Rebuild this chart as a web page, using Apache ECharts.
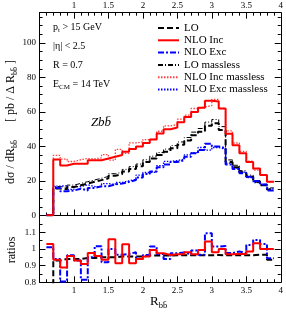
<!DOCTYPE html>
<html><head><meta charset="utf-8">
<script src="https://cdn.jsdelivr.net/npm/echarts@6/dist/echarts.min.js"></script>
<style>html,body{margin:0;padding:0;background:#fff}#c{width:286px;height:312px}</style>
</head><body><div id="c"></div>
<script>
// bin edges (R_bb)
const binEdges = [0.6,0.7,0.8,0.9,1.0,1.1,1.2,1.3,1.4,1.5,1.6,1.7,1.8,1.9,2.0,2.1,2.2,2.3,2.4,2.5,2.6,2.7,2.8,2.9,3.0,3.1,3.2,3.3,3.4,3.5,3.6,3.7,3.8,3.9];
// main panel: dsigma/dR [pb]
const LO = [0.1, 15.6,15.2,16.5,17.5,18.5,19.5,20.5,21.5,23,24, 25.5,27,28.5,31,33,35,37,39,41,43.5, 46.5,48.5,52,53.5,49.5,31,28,25,22.5,19.5, 17.5,15];
const NLO_Inc = [0.2, 32.5,29,30,30,30,32,32,33,34,35, 37,38.5,40,42,44,47.5,50,51,54,57, 60,62.5,66.5,66,62,47.4,40.7,36,31,27.2, 23.4,19.5];
const NLO_Exc = [0.1, 16,14,14.5,15.5,14.5,16,17,17,18,18.5, 19.5,20.5,22,24,25.5,28,29.5,31,32,34, 36,38,41.5,40,39,29.5,27,24.5,22.5,20, 18,14.5];
const LO_massless = [0.2, 16.8,16.2,17.6,18.6,19.6,20.6,21.6,22.6,24.2,25.1, 26.7,28.3,29.8,32.3,34.4,36.5,38.5,40.5,42.6,45.2, 48.3,50.4,54.1,55.6,51.5,32.2,29.1,26,23.4,20.2, 18.1,16];
const NLO_Inc_massless = [0.2, 34.8,32.7,31.3,32.3,33,32.8,33.4,35.3,32.1,38.3, 36,42.1,42.6,44,44.3,48.8,51.9,52.7,55.8,58.2, 62,62.9,63.7,67.3,62,49,42,37.1,31.5,26.3, 23.4,19.5];
const NLO_Exc_massless = [0.1, 17,17.3,15.1,16.7,17.8,16.8,16.7,18.5,18,19.2, 20.1,20.9,23.4,24.9,25.1,28.9,31.4,31.8,32.7,35.1, 36.4,39.4,37.9,39.4,38.3,30.3,27.4,25.1,22,19, 17.5,15.4];
// ratio panel
const ratio_LO = [0.5, 0.93,0.94,0.94,0.94,0.945,0.945,0.95,0.95,0.95,0.955, 0.955,0.955,0.955,0.96,0.96,0.96,0.96,0.962,0.962,0.962, 0.962,0.962,0.962,0.963,0.962,0.962,0.962,0.962,0.962,0.965, 0.965,0.935];
const ratio_Inc = [1.03, 0.935,0.888,0.958,0.93,0.91,0.975,0.958,0.935,1.058,0.914, 1.028,0.914,0.94,0.954,0.994,0.974,0.964,0.968,0.968,0.98, 0.968,0.994,1.044,0.98,1.0,0.968,0.97,0.97,0.984,1.034, 1.0,1.0];
const ratio_Exc = [1.01, 0.94,0.805,0.962,0.93,0.815,0.95,1.016,0.92,1.0,0.965, 0.97,0.98,0.94,0.964,1.014,0.97,0.94,0.974,0.978,0.968, 0.99,0.965,1.094,1.014,1.018,0.975,0.985,0.975,1.024,1.054, 1.03,0.944];
const legendNames = ['LO','NLO Inc','NLO Exc','LO massless','NLO Inc massless','NLO Exc massless'];

function hist(vals){
  const pts = vals.map((v,i)=>[binEdges[i], v]);
  pts.push([binEdges[vals.length], vals[vals.length-1]]);
  return pts;
}
const F = '"Liberation Serif", "Times New Roman", serif';
const blk = '#000';
const lab = {fontFamily:F, fontSize:9, color:blk};
const xBase = {type:'value', min:0.5, max:4, interval:0.5,
  axisLine:{show:true, onZero:false, lineStyle:{color:blk,width:1}},
  axisTick:{show:true, inside:true, length:6, lineStyle:{color:blk,width:1}},
  minorTick:{show:true, splitNumber:5, length:3, lineStyle:{color:blk,width:1}},
  splitLine:{show:false}, minorSplitLine:{show:false}, axisLabel:{show:false}};
const xLab = Object.assign({show:true, margin:3, formatter:v=> (Math.abs(v-0.5)<1e-9 ? '' : String(v))}, lab);
const yBase = {type:'value',
  axisLine:{show:true, onZero:false, lineStyle:{color:blk,width:1}},
  axisTick:{show:true, inside:true, length:6, lineStyle:{color:blk,width:1}},
  minorTick:{show:true, length:3, lineStyle:{color:blk,width:1}},
  splitLine:{show:false}, minorSplitLine:{show:false}, axisLabel:{show:false}};

function mainSeries(name, vals, color, width, type){
  return {name, type:'line', xAxisIndex:0, yAxisIndex:0, step:'end', data:hist(vals), symbol:'none', showSymbol:false,
    lineStyle:{color, width, type}, itemStyle:{color}, emphasis:{disabled:true}, z:3};
}
function ratioSeries(name, vals, color, width, type){
  return {name, type:'line', xAxisIndex:2, yAxisIndex:2, step:'end', data:hist(vals), symbol:'none', showSymbol:false,
    lineStyle:{color, width, type}, itemStyle:{color}, emphasis:{disabled:true}, z:3, clip:true};
}

const chart = echarts.init(document.getElementById('c'), null, {renderer:'canvas'});
chart.setOption({
  animation:false,
  backgroundColor:'#fff',
  grid:[
    {left:39.5, top:12.7, width:242.2, height:202.8},
    {left:39.5, top:215.5, width:242.2, height:66.8}
  ],
  xAxis:[
    Object.assign({}, xBase, {gridIndex:0, position:'bottom'}),
    Object.assign({}, xBase, {gridIndex:0, position:'top', axisLabel:xLab}),
    Object.assign({}, xBase, {gridIndex:1, position:'bottom', axisLabel:Object.assign({}, xLab, {margin:4})})
  ],
  yAxis:[
    Object.assign({}, yBase, {gridIndex:0, position:'left', min:0, max:117.5, interval:20, minorTick:Object.assign({}, yBase.minorTick, {splitNumber:4}),
      axisLabel:Object.assign({show:true, margin:3.5, showMinLabel:true, hideOverlap:false, formatter:v=> (v%20===0 ? String(v) : '')}, lab)}),
    Object.assign({}, yBase, {gridIndex:0, position:'right', min:0, max:117.5, interval:20, minorTick:Object.assign({}, yBase.minorTick, {splitNumber:4})}),
    Object.assign({}, yBase, {gridIndex:1, position:'left', min:0.8, max:1.2, interval:0.1, minorTick:Object.assign({}, yBase.minorTick, {splitNumber:2}),
      axisLabel:Object.assign({show:true, margin:3.5, formatter:v=> (Math.abs(v-1.2)<1e-6 ? '' : String(+v.toFixed(2)))}, lab)}),
    Object.assign({}, yBase, {gridIndex:1, position:'right', min:0.8, max:1.2, interval:0.1, minorTick:Object.assign({}, yBase.minorTick, {splitNumber:2})})
  ],
  legend:{data:legendNames, orient:'vertical', left:157, top:22, padding:0, itemWidth:21, itemHeight:12, itemGap:0.3,
    selectedMode:false, itemStyle:{opacity:0},
    textStyle:{fontFamily:F, fontSize:11, color:blk, lineHeight:12}},
  series:[
    mainSeries('LO massless', LO_massless, '#000', 1, [5,2,1,2]),
    mainSeries('NLO Inc massless', NLO_Inc_massless, '#ff4040', 1.3, [1.5,1.5]),
    mainSeries('NLO Exc massless', NLO_Exc_massless, '#0000ff', 1.3, [1.5,1.5]),
    mainSeries('LO', LO, '#000', 2, [6,3]),
    mainSeries('NLO Exc', NLO_Exc, '#0000ff', 2, [6,2,2,2]),
    mainSeries('NLO Inc', NLO_Inc, '#ff0000', 2, 'solid'),
    ratioSeries('LO ratio', ratio_LO, '#000', 2, [6,3]),
    ratioSeries('NLO Exc ratio', ratio_Exc, '#0000ff', 2, [6,2,2,2]),
    ratioSeries('NLO Inc ratio', ratio_Inc, '#ff0000', 2, 'solid')
  ],
  graphic:[
    {type:'text', x:53, y:27.5, style:{text:'p{s|t} > 15 GeV', fontFamily:F, fontSize:10, fill:blk, lineHeight:13, verticalAlign:'middle',
      rich:{s:{fontFamily:F, fontSize:7, lineHeight:7, verticalAlign:'bottom'}}}},
    {type:'text', x:53, y:46, style:{text:'|η| < 2.5', fontFamily:F, fontSize:10, fill:blk, verticalAlign:'middle'}},
    {type:'text', x:53, y:65, style:{text:'R = 0.7', fontFamily:F, fontSize:10, fill:blk, verticalAlign:'middle'}},
    {type:'text', x:53, y:84, style:{text:'E{s|CM} = 14 TeV', fontFamily:F, fontSize:10, fill:blk, lineHeight:13, verticalAlign:'middle',
      rich:{s:{fontFamily:F, fontSize:7, lineHeight:7, verticalAlign:'bottom'}}}},
    {type:'text', x:101, y:123, style:{text:'Zbb\u0304', fontFamily:F, fontSize:13, fontStyle:'italic', fill:blk, align:'center', verticalAlign:'middle'}},
    {type:'text', x:11, y:122, rotation:Math.PI/2, style:{text:'dσ / dR{s|bb\u0304}      [ pb / Δ R{s|bb\u0304} ]', fontFamily:F, fontSize:12, fill:blk,
      align:'center', verticalAlign:'middle', lineHeight:15, rich:{s:{fontFamily:F, fontSize:8, lineHeight:8, verticalAlign:'bottom'}}}},
    {type:'text', x:12, y:250, rotation:Math.PI/2, style:{text:'ratios', fontFamily:F, fontSize:12, fill:blk, align:'center', verticalAlign:'middle'}},
    {type:'text', x:150, y:302, style:{text:'R{s|bb\u0304}', fontFamily:F, fontSize:13, fill:blk, verticalAlign:'middle', lineHeight:16,
      rich:{s:{fontFamily:F, fontSize:8.5, lineHeight:8, verticalAlign:'bottom'}}}}
  ]
});
</script>
</body></html>
